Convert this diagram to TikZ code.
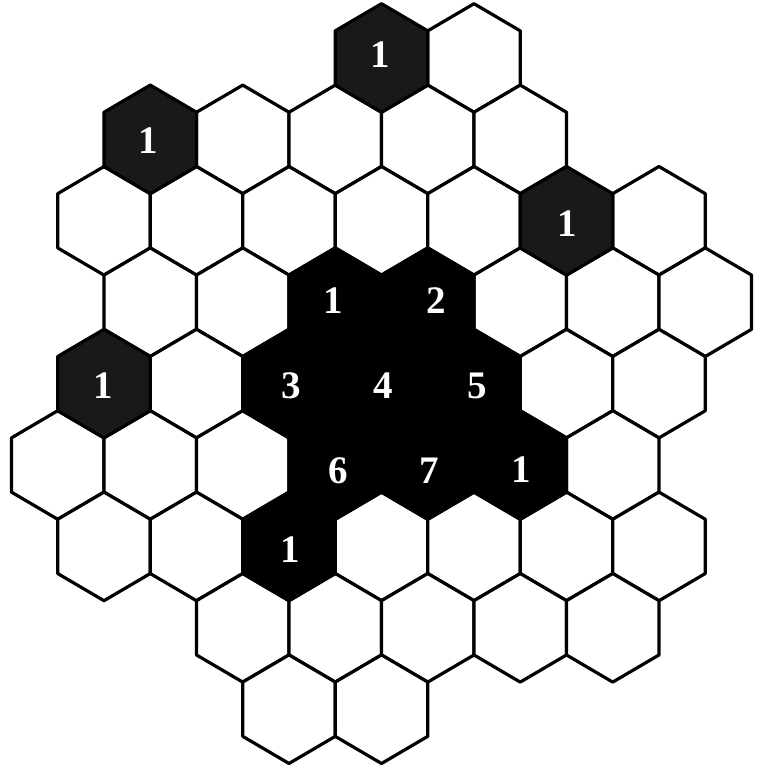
\documentclass[tikz,border=0pt]{standalone}
\usepackage{fontspec}
\setmainfont{Liberation Serif}
\tikzset{
  hexline/.style={draw=black, line width=3.2pt, line join=round, fill=white},
  darkhex/.style={hexline, fill=black!90},
  corehex/.style={hexline, fill=black},
  numlabel/.style={text=white, font=\fontsize{39}{41}\selectfont\bfseries, inner sep=0pt},
}
\newcommand\hexcell[3]{%
  \pgfmathsetmacro\hX{104+#1*46.25}%
  \pgfmathsetmacro\hY{58+(#2-1)*81.4}%
  \draw[#3] (\hX,\hY) +(0,-54.3) -- +(46.25,-27.15) -- +(46.25,27.15) -- +(0,54.3) -- +(-46.25,27.15) -- +(-46.25,-27.15) -- cycle;%
}
\begin{document}
\begin{tikzpicture}[x=1pt,y=-1pt]
\useasboundingbox[fill=white] (0,0) rectangle (758,771);
% white cells
\foreach \c/\r in {8/1,
  3/2,5/2,7/2,9/2,
  0/3,2/3,4/3,6/3,8/3,12/3,
  1/4,3/4,9/4,11/4,13/4,
  2/5,10/5,12/5,
  -1/6,1/6,3/6,11/6,
  0/7,2/7,6/7,8/7,10/7,12/7,
  3/8,5/8,7/8,9/8,11/8,
  4/9,6/9}{\hexcell{\c}{\r}{hexline}}
% isolated dark cells
\foreach \c/\r in {6/1,1/2,10/3,0/5}{\hexcell{\c}{\r}{darkhex}}
% central dark region
\foreach \c/\r in {5/4,7/4,4/5,6/5,8/5,5/6,7/6,9/6,4/7}{\hexcell{\c}{\r}{corehex}}
% labels
\node[numlabel] (ta) at (380,55) {1};
\node[numlabel] (tb) at (148,141) {1};
\node[numlabel] (tc) at (567,224) {1};
\node[numlabel] (td) at (103,386) {1};
\node[numlabel] (ca) at (333,301) {1};
\node[numlabel] (cb) at (436,301) {2};
\node[numlabel] (cc) at (291,386) {3};
\node[numlabel] (cd) at (383,386) {4};
\node[numlabel] (ce) at (477,386) {5};
\node[numlabel] (cf) at (338,471) {6};
\node[numlabel] (cg) at (429,471) {7};
\node[numlabel] (ch) at (521,470) {1};
\node[numlabel] (ci) at (290,550) {1};
\end{tikzpicture}
\end{document}
